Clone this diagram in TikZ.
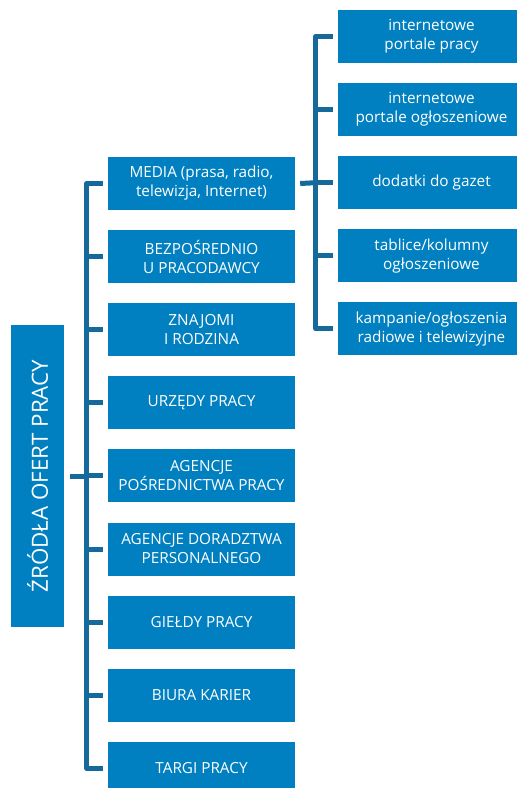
\documentclass[tikz,border=0pt]{standalone}
\usepackage{fontspec}
\setmainfont{Open Sans}
\definecolor{boxblue}{RGB}{0,128,192}
\definecolor{lineblue}{RGB}{22,105,155}
\begin{document}
\begin{tikzpicture}[x=1pt,y=-1pt,
  mainbox/.style={fill=boxblue,draw=none,minimum width=187pt,minimum height=53pt,inner sep=0pt,
    text=white,align=center,font=\fontsize{15.3}{19}\selectfont},
  titlebox/.style={fill=boxblue,draw=none,minimum width=302pt,minimum height=53pt,inner sep=0pt,
    text=white,rotate=90,font=\fontsize{22.3}{26}\selectfont},
  conn/.style={draw=lineblue,line width=5pt,line join=round,line cap=butt}]
\path[use as bounding box] (0,0) rectangle (517,788);
\clip (0,0) rectangle (517,788);
% title
\node[titlebox] (T) at (37.5,476) {ŹRÓDŁA OFERT PRACY};
% main column
\def\pitch{73.1}
\foreach \i/\t in {0/{MEDIA (prasa, radio,\\telewizja, Internet)},
                   1/{BEZPOŚREDNIO\\U PRACODAWCY},
                   2/{ZNAJOMI\\I RODZINA},
                   3/{URZĘDY PRACY},
                   4/{AGENCJE\\POŚREDNICTWA PRACY},
                   5/{AGENCJE DORADZTWA\\PERSONALNEGO},
                   6/{GIEŁDY PRACY},
                   7/{BIURA KARIER},
                   8/{TARGI PRACY}}{
  \node[mainbox] (m\i) at (201.5,{183.5+\pitch*\i}) {\t};
}
% right column
\foreach \i/\t in {0/{internetowe\\portale pracy},
                   1/{internetowe\\portale ogłoszeniowe},
                   2/{dodatki do gazet},
                   3/{tablice/kolumny\\ogłoszeniowe},
                   4/{kampanie/ogłoszenia\\radiowe i telewizyjne}}{
  \node[mainbox] (r\i) at (431.5,{36.5+\pitch*\i}) {\t};
}
% left bracket
\coordinate (L0) at ([xshift=-21pt]m0.west);
\coordinate (L8) at ([xshift=-21pt]m8.west);
\draw[conn] ([xshift=-5pt]m0.west) -- (L0) -- (L8) -- ([xshift=-5pt]m8.west);
\foreach \i in {1,...,7}{
  \draw[conn] ([xshift=-5pt]m\i.west) -- ([xshift=-21pt]m\i.west);
}
\draw[conn] ([xshift=6pt]T.south) -- (L0 |- T.south);
% right bracket
\coordinate (R0) at ([xshift=-22pt]r0.west);
\coordinate (R4) at ([xshift=-22pt]r4.west);
\draw[conn] ([xshift=-5pt]r0.west) -- (R0) -- (R4) -- ([xshift=-5pt]r4.west);
\foreach \i in {1,...,3}{
  \draw[conn] ([xshift=-5pt]r\i.west) -- ([xshift=-22pt]r\i.west);
}
\draw[conn] ([xshift=5pt]m0.east) -- ([xshift=-22pt]r2.west);
\end{tikzpicture}
\end{document}
